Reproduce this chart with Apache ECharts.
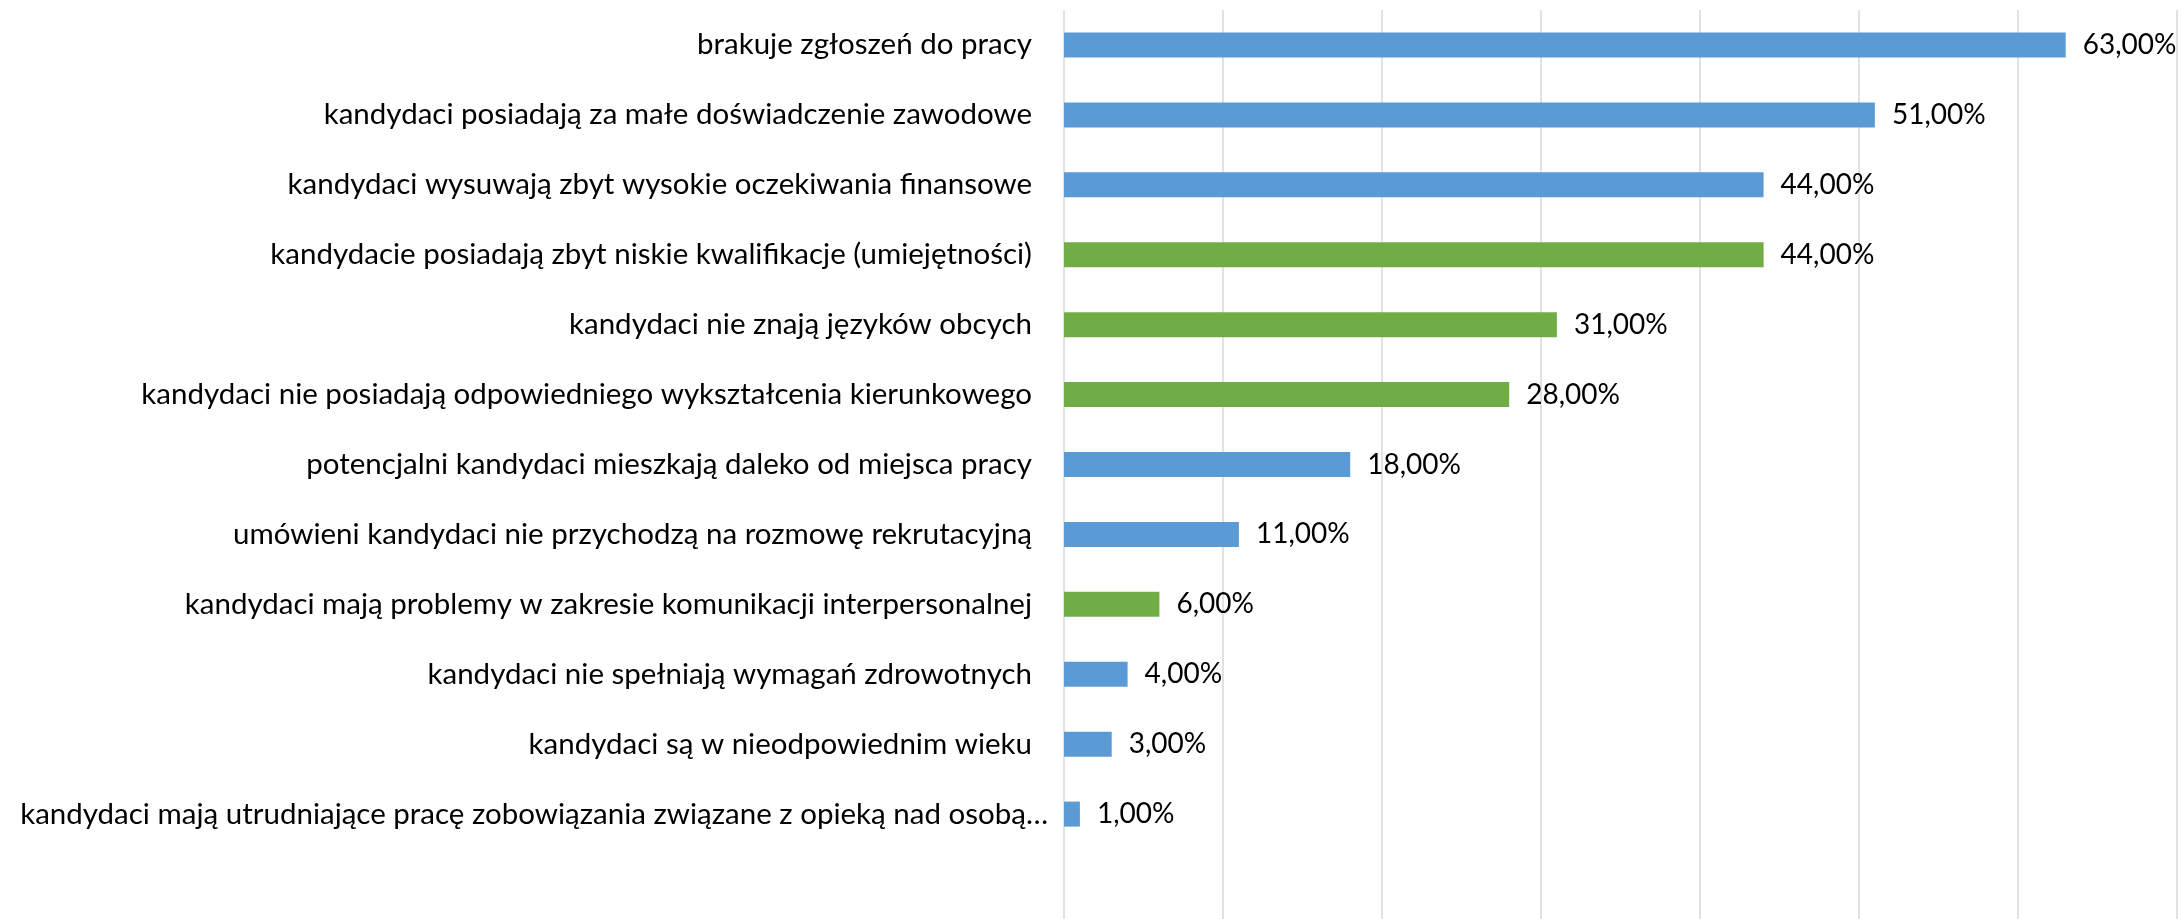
<!DOCTYPE html>
<html>
<head>
<meta charset="utf-8">
<script src="https://cdn.jsdelivr.net/npm/echarts@6/dist/echarts.min.js"></script>
<style>
html,body{margin:0;padding:0;background:#fff;}
#chart{width:2182px;height:919px;}
</style>
</head>
<body>
<div id="chart"></div>
<script>
const categories = [
  'brakuje zgłoszeń do pracy',
  'kandydaci posiadają za małe doświadczenie zawodowe',
  'kandydaci wysuwają zbyt wysokie oczekiwania finansowe',
  'kandydacie posiadają zbyt niskie kwalifikacje (umiejętności)',
  'kandydaci nie znają języków obcych',
  'kandydaci nie posiadają odpowiedniego wykształcenia kierunkowego',
  'potencjalni kandydaci mieszkają daleko od miejsca pracy',
  'umówieni kandydaci nie przychodzą na rozmowę rekrutacyjną',
  'kandydaci mają problemy w zakresie komunikacji interpersonalnej',
  'kandydaci nie spełniają wymagań zdrowotnych',
  'kandydaci są w nieodpowiednim wieku',
  'kandydaci mają utrudniające pracę zobowiązania związane z opieką nad osobą…'
];
const values = [63, 51, 44, 44, 31, 28, 18, 11, 6, 4, 3, 1];
const groups = ['A','A','A','B','B','B','A','A','B','A','A','A'];
const xTicks = [0, 10, 20, 30, 40, 50, 60, 70];

const groupColors = { A: '#5B9BD5', B: '#70AD47' };
const FONT = 'Lato';

const chart = echarts.init(document.getElementById('chart'));
chart.setOption({
  animation: false,
  backgroundColor: '#ffffff',
  grid: { left: 1064, right: 5, top: 10, height: 912, containLabel: false },
  xAxis: {
    type: 'value',
    min: xTicks[0],
    max: xTicks[xTicks.length - 1],
    interval: 10,
    axisLabel: { show: false },
    axisLine: { show: false },
    axisTick: { show: false },
    splitLine: { show: true, lineStyle: { color: '#D9D9D9', width: 1.5 } }
  },
  yAxis: {
    type: 'category',
    data: categories,
    inverse: true,
    max: categories.length,
    axisLine: { show: false },
    axisTick: { show: false },
    axisLabel: {
      margin: 32,
      color: '#000000',
      fontFamily: FONT,
      fontSize: 29.5,
      formatter: (v, i) => (i === categories.length - 1 ? '{last|' + v + '}' : v),
      rich: {
        last: { fontFamily: FONT, fontSize: 29.5, color: '#000000', padding: [0, -16, 0, 0] }
      }
    }
  },
  series: [{
    type: 'bar',
    barWidth: 25,
    data: values.map((v, i) => ({ value: v, itemStyle: { color: groupColors[groups[i]] } })),
    label: {
      show: true,
      position: 'right',
      distance: 17,
      color: '#000000',
      fontFamily: FONT,
      fontSize: 28,
      formatter: p => p.value.toFixed(2).replace('.', ',') + '%'
    }
  }]
});
</script>
</body>
</html>
